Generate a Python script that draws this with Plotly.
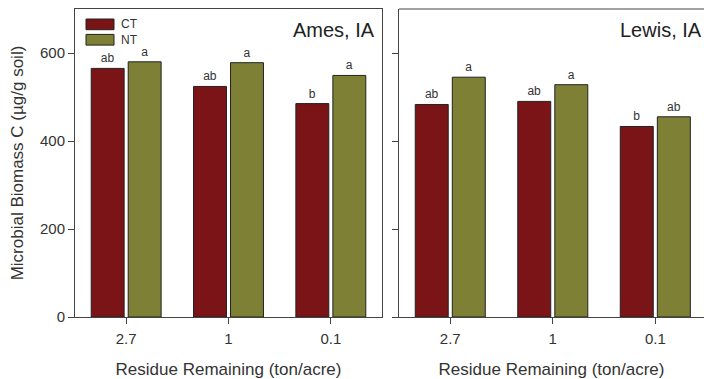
import plotly.graph_objects as go

categories = ["2.7", "1", "0.1"]
ames_ct = [565, 524, 485]
ames_nt = [580, 578, 549]
lewis_ct = [483, 490, 433]
lewis_nt = [545, 528, 455]
ames_ct_lbl = ["ab", "ab", "b"]
ames_nt_lbl = ["a", "a", "a"]
lewis_ct_lbl = ["ab", "ab", "b"]
lewis_nt_lbl = ["a", "a", "ab"]
y_ticks = [0, 200, 400, 600]

CT_COLOR = "#7B1416"
NT_COLOR = "#7E8035"
AX = "#444444"
TXT = "#333333"
FONT = "Liberation Sans, Arial, sans-serif"

fig = go.Figure()

def add_bars(xa, ya, ct, nt, ctl, ntl):
    for vals, lbl, col, name in [(ct, ctl, CT_COLOR, "CT"), (nt, ntl, NT_COLOR, "NT")]:
        fig.add_trace(go.Bar(
            x=categories, y=vals, name=name, text=lbl,
            textposition="outside", cliponaxis=False,
            textfont=dict(size=12, color=TXT, family=FONT),
            marker=dict(color=col, line=dict(color="#222222", width=1)),
            xaxis=xa, yaxis=ya, showlegend=False, offsetgroup=name,
        ))

add_bars("x", "y", ames_ct, ames_nt, ames_ct_lbl, ames_nt_lbl)
add_bars("x2", "y2", lewis_ct, lewis_nt, lewis_ct_lbl, lewis_nt_lbl)

W, H = 704, 379
ml, mr, mt, mb = 75, 0, 9, 62
pw = W - ml - mr
d1 = [0, (382 - ml) / pw]
d2 = [(399 - ml) / pw, 1]

axis_common = dict(showline=True, linecolor=AX, linewidth=1, ticks="outside",
                   tickcolor=AX, ticklen=6, showgrid=False, zeroline=False,
                   tickfont=dict(size=15, color=TXT, family=FONT))

fig.update_layout(
    width=W, height=H, margin=dict(l=ml, r=mr, t=mt, b=mb),
    paper_bgcolor="white", plot_bgcolor="white",
    barmode="group", bargap=0.277, bargroupgap=0.11,
    font=dict(family=FONT, color=TXT),
    xaxis=dict(domain=d1, range=[-0.5, 2.5], mirror=True, anchor="y",
               title=dict(text="Residue Remaining (ton/acre)", font=dict(size=17, color=TXT), standoff=17),
               ticklabelstandoff=2, **axis_common),
    yaxis=dict(domain=[0, 1], range=[0, 700], mirror=True, anchor="x",
               tickvals=y_ticks,
               title=dict(text="Microbial Biomass C (µg/g soil)", font=dict(size=17, color=TXT), standoff=12),
               **axis_common),
    xaxis2=dict(domain=d2, range=[-0.5, 2.475], mirror=False, anchor="y2",
                title=dict(text="Residue Remaining (ton/acre)", font=dict(size=17, color=TXT), standoff=17),
                ticklabelstandoff=2, **axis_common),
    yaxis2=dict(domain=[0, 1], range=[0, 700], anchor="x2", tickvals=y_ticks,
                showticklabels=False, **axis_common),
)

# top border for right panel
fig.add_shape(type="line", xref="x2 domain", yref="y2 domain", x0=0, x1=1, y0=1, y1=1,
              line=dict(color=AX, width=1))

# panel labels
fig.add_annotation(text="Ames, IA", xref="x domain", yref="y domain", x=0.985, y=0.975,
                   xanchor="right", yanchor="top", showarrow=False,
                   font=dict(size=20, color="#222222", family=FONT))
fig.add_annotation(text="Lewis, IA", xref="x2 domain", yref="y2 domain", x=1.0, y=0.975,
                   xanchor="right", yanchor="top", showarrow=False,
                   font=dict(size=20, color="#222222", family=FONT))

# legend (drawn manually)
legend_items = [("CT", CT_COLOR), ("NT", NT_COLOR)]
for i, (name, col) in enumerate(legend_items):
    y0 = 700 - (19.3 - 9.3) / 0.44 - i * (15.4 / 0.44)
    fig.add_shape(type="rect", xref="x domain", yref="y", x0=(86 - 75) / 307, x1=(114 - 75) / 307,
                  y0=y0 - 10.7 / 0.44, y1=y0, fillcolor=col, line=dict(color="#222222", width=1))
    fig.add_annotation(text=name, xref="x domain", yref="y", x=(119 - 75) / 307, y=y0 - 5.35 / 0.44,
                       xanchor="left", yanchor="middle", showarrow=False,
                       font=dict(size=12, color=TXT, family=FONT))

fig.write_html("out.html", config={"displayModeBar": False},
               post_script="document.body.style.margin='0';document.body.style.overflow='hidden';")
